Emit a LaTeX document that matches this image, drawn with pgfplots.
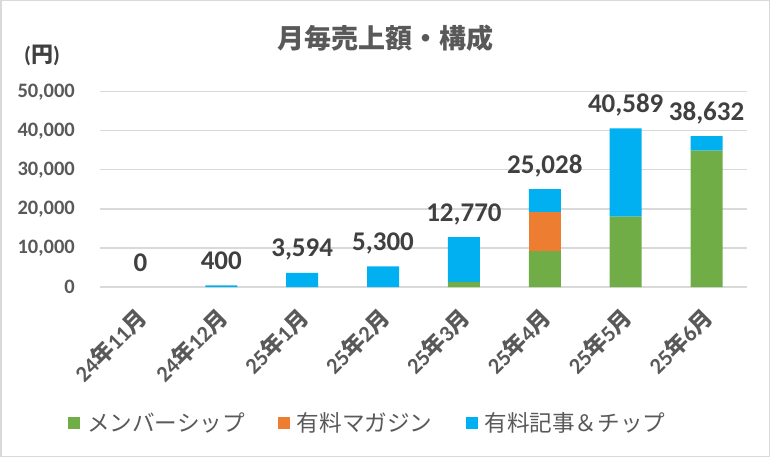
\documentclass[border=0pt]{standalone}
\usepackage{fontspec}
\setmainfont{Carlito}
\newfontfamily\cjk{Noto Sans CJK JP}
\usepackage{pgfplots}
\pgfplotsset{compat=1.18}
\definecolor{cgreen}{HTML}{70AD47}
\definecolor{corange}{HTML}{ED7D31}
\definecolor{cblue}{HTML}{00B0F0}
\definecolor{txt}{HTML}{595959}
\definecolor{lbl}{HTML}{404040}
\definecolor{gridc}{HTML}{D9D9D9}
\newcommand{\fs}[1]{\fontsize{#1bp}{#1bp}\selectfont}
\newcommand{\J}[1]{{\cjk\bfseries #1}}
\begin{document}
\begin{tikzpicture}
\begin{axis}[
  at={(100bp,170bp)}, anchor=south west,
  scale only axis, width=647bp, height=195.3bp,
  ybar stacked, bar width=32bp,
  xmin=-0.5, xmax=7.5, ymin=0, ymax=50000,
  xtick={0,...,7},
  xticklabels={24\J{年}11\J{月},24\J{年}12\J{月},25\J{年}1\J{月},25\J{年}2\J{月},25\J{年}3\J{月},25\J{年}4\J{月},25\J{年}5\J{月},25\J{年}6\J{月}},
  ytick={0,10000,20000,30000,40000,50000},
  scaled y ticks=false,
  ymajorgrids, major grid style={draw=gridc, line width=1.3bp},
  axis line style={draw=none}, major tick length=0pt,
  /pgf/number format/fixed, /pgf/number format/precision=0,
  /pgf/number format/1000 sep={,}, /pgf/number format/assume math mode=true,
  yticklabel style={font=\fs{20.5}\bfseries, text=txt, anchor=east, inner sep=0pt, xshift=-25bp},
  xticklabel style={font=\fs{22.5}\bfseries, text=txt, inner sep=0pt, xshift=2bp, yshift=-26bp, rotate=45, anchor=east},
  clip=false,
  title={\J{月毎売上額・構成}},
  title style={font=\fs{27}, text=txt, at={(axis description cs:0.4405,1.245)}, anchor=center},
  ylabel={\bfseries(\J{円})},
  ylabel style={rotate=-90, font=\fs{22}, text=lbl, at={(axis description cs:-0.0896,1.188)}, anchor=center},
  legend style={draw=none, fill=none, at={(axis description cs:-0.0495,-0.696)}, anchor=west,
    legend columns=3, font=\cjk\fs{22.6}, text=txt, inner sep=0pt, nodes={inner sep=0pt},
    /tikz/every odd column/.append style={column sep=7bp},
    /tikz/every even column/.append style={column sep=33bp}},
  legend image code/.code={\fill[#1] (0bp,-6bp) rectangle (12bp,6bp);},
]
\addplot[fill=cgreen, draw=none] coordinates {(0,0) (1,0) (2,0) (3,0) (4,1300) (5,9200) (6,18000) (7,34900)};
\addplot[fill=corange, draw=none] coordinates {(0,0) (1,0) (2,0) (3,0) (4,0) (5,9950) (6,0) (7,0)};
\addplot[fill=cblue, draw=none] coordinates {(0,0) (1,400) (2,3594) (3,5300) (4,11470) (5,5878) (6,22589) (7,3732)};
\addplot[draw=none, fill=none, point meta=explicit,
  nodes near coords={\pgfmathprintnumber{\pgfplotspointmeta}},
  every node near coord/.append style={font=\fs{27}\bfseries, text=lbl, anchor=base, inner sep=0pt, yshift=16bp}]
  coordinates {(0,0.01) [0] (1,0.01) [400] (2,0.01) [3594] (3,0.01) [5300] (4,0.01) [12770] (5,0.01) [25028] (6,0.01) [40589] (7,0.01) [38632]};
\legend{メンバーシップ,有料マガジン,有料記事＆チップ}
\end{axis}
\draw[gridc, line width=1.5bp] (0.75bp,0.75bp) rectangle (769.25bp,456.25bp);
\pgfresetboundingbox
\path[use as bounding box] (0,0) rectangle (770bp,457bp);
\end{tikzpicture}
\end{document}
